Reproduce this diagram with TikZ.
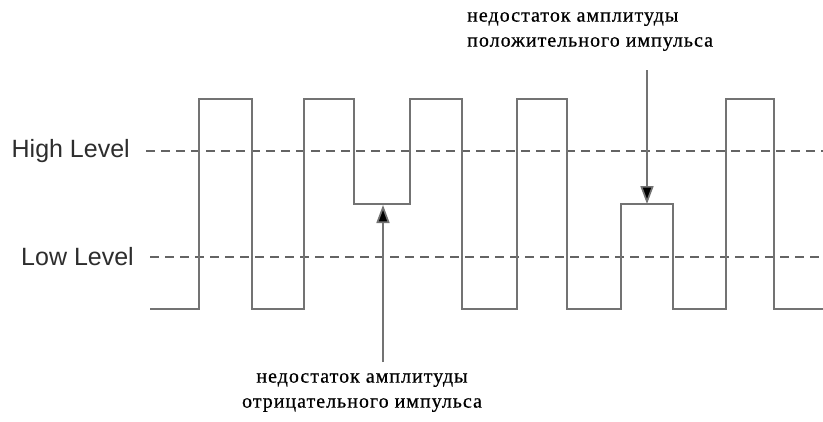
\documentclass[tikz,border=0pt]{standalone}
\usepackage{fontspec}
\setmainfont{Liberation Serif}
\newfontfamily\lvlfont{Liberation Sans}
\newfontfamily\cyrfont[LetterSpace=5,FakeBold=0.6]{Liberation Serif}
\usetikzlibrary{arrows.meta}
\definecolor{wavegray}{RGB}{115,115,115}
\definecolor{dashgray}{RGB}{100,100,100}
\definecolor{txtgray}{RGB}{45,45,45}
\begin{document}
\begin{tikzpicture}[x=1pt,y=-1pt,
  wave/.style={draw=wavegray,line width=1.7pt,line join=miter},
  levelline/.style={draw=dashgray,line width=1.9pt,dash pattern=on 9pt off 6pt},
  levellabel/.style={anchor=east,inner sep=0pt,text=txtgray,font=\lvlfont\fontsize{25}{30}\selectfont},
  note/.style={inner sep=0pt,text=black,font=\cyrfont\fontsize{20}{25}\selectfont},
  pointer/.style={draw=wavegray,line width=1.7pt,-{Triangle[length=18pt,width=13pt,fill=black]}}]
\useasboundingbox (0,0) rectangle (823,421);
\fill[white] (0,0) rectangle (823,421);
% level lines
\draw[levelline] (146,151) -- (823,151);
\draw[levelline] (150,257) -- (823,257);
\node[levellabel] (high) at (130,151) {High Level};
\node[levellabel] (low) at (134,257) {Low Level};
% waveform
\draw[wave] (150,309) -- (199,309) -- (199,99) -- (252,99) -- (252,309) -- (304,309) -- (304,99) -- (354,99) -- (354,204) -- (410,204) -- (410,99) -- (462,99) -- (462,309) -- (517,309) -- (517,99) -- (567,99) -- (567,309) -- (621,309) -- (621,204) -- (673,204) -- (673,309) -- (726,309) -- (726,99) -- (774,99) -- (774,309) -- (823,309);
% notes
\node[note,anchor=north west,align=left] (pos) at (467,12) {недостаток амплитуды\\положительного импульса};
\node[note,anchor=north,align=center] (neg) at (362,373) {недостаток амплитуды\\отрицательного импульса};
\coordinate (posstart) at (647,70);
\coordinate (postip) at (647,204);
\coordinate (negstart) at (383,362);
\coordinate (negtip) at (383,205);
\draw[pointer] (posstart) -- (postip);
\draw[pointer] (negstart) -- (negtip);
\end{tikzpicture}
\end{document}
